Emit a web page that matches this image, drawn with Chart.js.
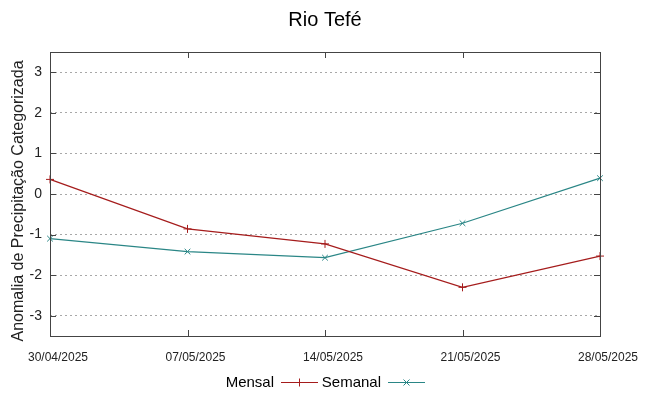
<!DOCTYPE html>
<html lang="pt-BR">
<head>
<meta charset="utf-8">
<title>Rio Tefé</title>
<script src="https://cdn.jsdelivr.net/npm/chart.js@4"></script>
<style>
  html, body { margin: 0; padding: 0; background: #fff; }
  #caixa { position: relative; width: 649px; height: 396px; }
</style>
</head>
<body>
<div id="caixa"><canvas id="grafico"></canvas></div>
<script>
/* Anomalia de precipitação categorizada, Rio Tefé. */

const DATAS = ['30/04/2025', '07/05/2025', '14/05/2025', '21/05/2025', '28/05/2025'];
const MENSAL = [0.36, -0.86, -1.23, -2.30, -1.53];
const SEMANAL = [-1.10, -1.42, -1.57, -0.72, 0.39];
const TICKS_Y = [-3, -2, -1, 0, 1, 2, 3];

const TITULO = 'Rio Tefé';
const ROTULO_Y = 'Anomalia de Precipitação Categorizada';

const COR_MENSAL = '#a51c1c';
const COR_SEMANAL = '#2a8686';
const FONTE = '"Liberation Sans", Arial, sans-serif';

// Moldura estilo gnuplot: caixa fechada, marcas para dentro, título e legenda.
const moldura = {
  id: 'moldura',
  afterDraw(chart) {
    const { ctx, chartArea: a, scales } = chart;
    ctx.save();
    ctx.strokeStyle = '#444';
    ctx.lineWidth = 1;
    ctx.strokeRect(a.left + 0.5, a.top + 0.5, a.right - a.left, a.bottom - a.top);
    ctx.beginPath();
    scales.y.ticks.forEach((t) => {
      const y = Math.round(scales.y.getPixelForValue(t.value)) + 0.5;
      ctx.moveTo(a.left, y); ctx.lineTo(a.left + 6, y);
      ctx.moveTo(a.right, y); ctx.lineTo(a.right - 6, y);
    });
    DATAS.forEach((_, i) => {
      const x = Math.round(scales.x.getPixelForValue(i)) + 0.5;
      ctx.moveTo(x, a.bottom); ctx.lineTo(x, a.bottom - 6);
      ctx.moveTo(x, a.top); ctx.lineTo(x, a.top + 6);
    });
    ctx.stroke();

    // título
    ctx.fillStyle = '#000';
    ctx.textAlign = 'center';
    ctx.textBaseline = 'middle';
    ctx.font = '20px ' + FONTE;
    ctx.fillText(TITULO, (a.left + a.right) / 2, 20);

    // rótulo do eixo y
    ctx.save();
    ctx.translate(19, 201);
    ctx.rotate(-Math.PI / 2);
    ctx.fillStyle = '#222';
    ctx.font = '16px ' + FONTE;
    ctx.fillText(ROTULO_Y, 0, 0);
    ctx.restore();

    // legenda: texto alinhado à direita antes da amostra, como no gnuplot
    const itens = [
      { nome: 'Mensal', cor: COR_MENSAL, marca: 'cruz', x0: 281 },
      { nome: 'Semanal', cor: COR_SEMANAL, marca: 'xis', x0: 388 },
    ];
    const amostra = 37, y = 382.5;
    ctx.font = '15px ' + FONTE;
    itens.forEach((it) => {
      ctx.fillStyle = '#000';
      ctx.textAlign = 'right';
      ctx.fillText(it.nome, it.x0 - 7, y);
      ctx.strokeStyle = it.cor;
      ctx.lineWidth = 1;
      ctx.beginPath();
      ctx.moveTo(it.x0, y); ctx.lineTo(it.x0 + amostra, y);
      const cx = it.x0 + amostra / 2;
      if (it.marca === 'cruz') {
        ctx.moveTo(cx, y - 4); ctx.lineTo(cx, y + 4);
      } else {
        ctx.moveTo(cx - 3, y - 3); ctx.lineTo(cx + 3, y + 3);
        ctx.moveTo(cx - 3, y + 3); ctx.lineTo(cx + 3, y - 3);
      }
      ctx.stroke();
    });
    ctx.restore();
  },
};

const serie = (rotulo, dados, cor, estilo) => ({
  label: rotulo,
  data: dados,
  borderColor: cor,
  backgroundColor: cor,
  borderWidth: 1.2,
  pointStyle: estilo,
  pointRadius: 4,
  pointBorderWidth: 1,
  pointHoverRadius: 4,
  tension: 0,
});

new Chart(document.getElementById('grafico'), {
  type: 'line',
  data: {
    labels: DATAS,
    datasets: [
      serie('Mensal', MENSAL, COR_MENSAL, 'cross'),
      serie('Semanal', SEMANAL, COR_SEMANAL, 'crossRot'),
    ],
  },
  options: {
    responsive: true,
    maintainAspectRatio: false,
    animation: false,
    layout: { padding: { left: 0, right: 49, top: 52, bottom: 0 } },
    plugins: { legend: { display: false }, tooltip: { enabled: false }, title: { display: false } },
    scales: {
      x: {
        offset: false,
        grid: { display: false, drawTicks: false },
        border: { display: false },
        ticks: { color: '#222', font: { family: FONTE, size: 12 }, padding: 14, labelOffset: 8, maxRotation: 0, autoSkip: false },
        afterFit(s) { s.height = 60; },
      },
      y: {
        min: -3.5,
        max: 3.5,
        afterBuildTicks(s) { s.ticks = TICKS_Y.map((v) => ({ value: v })); },
        grid: { color: '#a8a8a8', drawTicks: false, lineWidth: 1 },
        border: { display: false, dash: [2, 3] },
        ticks: { color: '#222', font: { family: FONTE, size: 14 }, padding: 8 },
        afterFit(s) { s.width = 50; },
      },
    },
  },
  plugins: [moldura],
});
</script>
</body>
</html>
